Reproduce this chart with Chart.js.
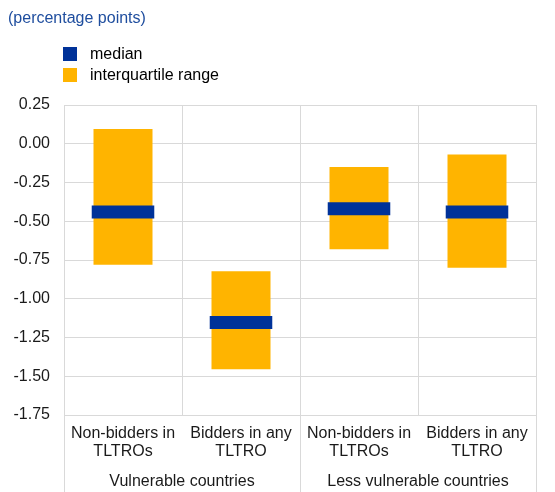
<!DOCTYPE html>
<html lang="en">
<head>
    <meta charset="UTF-8">
    <title>Interquartile range chart</title>
    <script src="https://cdn.jsdelivr.net/npm/chart.js"></script>
    <style>
        body { margin: 0; background: #fff; font-family: 'Liberation Sans', Arial, sans-serif; }
        #wrap { position: relative; width: 555px; height: 492px; }
        #chart { position: absolute; left: 0; top: 0; }
        .title { position: absolute; left: 8px; top: 9px; font-size: 16px; color: #1e4d9e; }
        .legend { position: absolute; left: 63px; top: 43px; font-size: 16px; color: #000; }
        .legend div { display: flex; align-items: center; height: 21px; }
        .legend span { display: inline-block; width: 14px; height: 14px; margin-right: 13px; }
    </style>
</head>
<body>
    <div id="wrap">
        <canvas id="chart" width="555" height="492"></canvas>
        <div class="title">(percentage points)</div>
        <div class="legend">
            <div><span style="background:#003299"></span>median</div>
            <div><span style="background:#ffb400"></span>interquartile range</div>
        </div>
    </div>

    <script>
        // values
        const categories = [
            ['Non-bidders in', 'TLTROs'],
            ['Bidders in any', 'TLTRO'],
            ['Non-bidders in', 'TLTROs'],
            ['Bidders in any', 'TLTRO']
        ];
        const groupLabels = ['Vulnerable countries', 'Less vulnerable countries'];
        const groupSizes = [2, 2];
        const lowerQuartile = [-0.78, -1.455, -0.68, -0.80];
        const upperQuartile = [0.095, -0.823, -0.15, -0.07];
        const median = [-0.44, -1.153, -0.42, -0.44];
        const yTicks = [0.25, 0, -0.25, -0.5, -0.75, -1, -1.25, -1.5, -1.75];

        const medianHalf = 0.042; // thickness of the median marker, in axis units
        const gridColor = '#d9d9d9';
        const font = { family: "'Liberation Sans', Arial, sans-serif", size: 16 };

        // vertical separators between country groups, through the label area
        const groupLines = {
            id: 'groupLines',
            afterDraw(chart) {
                const x = chart.scales.x;
                const half = (x.getPixelForValue(1) - x.getPixelForValue(0)) / 2;
                const ctx = chart.ctx;
                ctx.save();
                ctx.strokeStyle = gridColor;
                ctx.lineWidth = 1;
                let idx = 0;
                const edges = [x.getPixelForValue(0) - half];
                groupSizes.forEach(n => {
                    idx += n;
                    edges.push(x.getPixelForValue(idx - 1) + half);
                });
                edges.forEach(px => {
                    const p = Math.round(px) + 0.5;
                    ctx.beginPath();
                    ctx.moveTo(p, chart.chartArea.bottom);
                    ctx.lineTo(p, chart.height);
                    ctx.stroke();
                });
                ctx.restore();
            }
        };

        new Chart(document.getElementById('chart'), {
            type: 'bar',
            data: {
                labels: categories,
                datasets: [{
                    label: 'median',
                    data: median.map(m => [m - medianHalf, m + medianHalf]),
                    backgroundColor: '#003299',
                    grouped: false,
                    barPercentage: 0.53,
                    categoryPercentage: 1,
                    order: 0
                }, {
                    label: 'interquartile range',
                    data: lowerQuartile.map((lo, i) => [lo, upperQuartile[i]]),
                    backgroundColor: '#ffb400',
                    grouped: false,
                    barPercentage: 0.5,
                    categoryPercentage: 1,
                    order: 1
                }]
            },
            options: {
                responsive: false,
                animation: false,
                layout: { padding: { top: 105, right: 19, left: 0, bottom: 0 } },
                plugins: { legend: { display: false }, tooltip: { enabled: false } },
                scales: {
                    y: {
                        min: -1.75,
                        max: 0.25,
                        afterBuildTicks: s => { s.ticks = yTicks.map(v => ({ value: v })); },
                        afterFit: s => { s.width = 64; },
                        ticks: {
                            padding: 14,
                            color: '#1a1a1a',
                            font: font,
                            callback: v => v.toFixed(2)
                        },
                        grid: { color: gridColor, drawTicks: false },
                        border: { color: gridColor }
                    },
                    x: {
                        weight: 0,
                        afterFit: s => { s.height = 52; },
                        ticks: { padding: 9, color: '#1a1a1a', font: { ...font, lineHeight: 1.15 }, maxRotation: 0, autoSkip: false },
                        grid: { color: gridColor, offset: true, drawTicks: false },
                        border: { color: gridColor }
                    },
                    x2: {
                        type: 'category',
                        position: 'bottom',
                        weight: 1,
                        labels: groupLabels,
                        afterFit: s => { s.height = 25; },
                        ticks: { padding: 5, color: '#1a1a1a', font: font, maxRotation: 0, autoSkip: false },
                        grid: { display: false, drawTicks: false },
                        border: { display: false }
                    }
                }
            },
            plugins: [groupLines]
        });
    </script>
</body>
</html>
